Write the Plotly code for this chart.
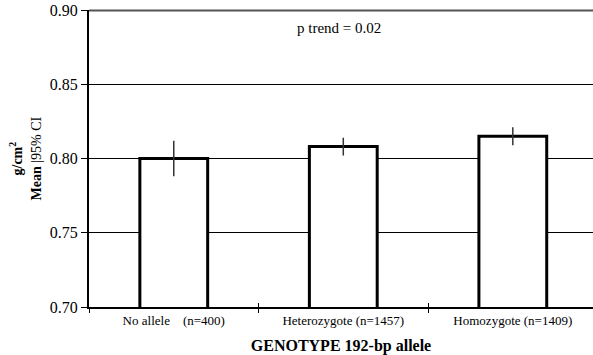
import plotly.graph_objects as go

# Mean bone density by genotype with 95% confidence interval half-widths
categories = ["No allele    (n=400)", "Heterozygote (n=1457)", "Homozygote (n=1409)"]
means = [0.800, 0.808, 0.815]
ci_half = [0.012, 0.006, 0.006]
y_ticks = [0.70, 0.75, 0.80, 0.85, 0.90]
y_tick_labels = ["0.70", "0.75", "0.80", "0.85", "0.90"]
group_bounds = [-0.5, 0.5, 1.5]

serif = "Liberation Serif"

fig = go.Figure()
fig.add_trace(go.Bar(
    x=list(range(len(categories))),
    y=means,
    base=0,
    width=0.4,
    marker=dict(color="white", line=dict(color="black", width=3)),
    error_y=dict(type="data", array=ci_half, visible=True,
                 color="#333333", thickness=1.5, width=0),
    showlegend=False,
))

x_range = [-0.5, 2.473]
fig.update_layout(
    width=593, height=355,
    margin=dict(l=89, r=0, t=10, b=48),
    plot_bgcolor="white", paper_bgcolor="white",
    font=dict(family=serif, color="black"),
    xaxis=dict(
        range=x_range,
        tickmode="array",
        tickvals=list(range(len(categories))),
        ticktext=categories,
        tickfont=dict(size=13, family=serif),
        ticks="",
        showline=True, linecolor="black", linewidth=2,
        showgrid=False, zeroline=False,
        title=dict(text="<b>GENOTYPE 192-bp allele</b>",
                   font=dict(size=16, family=serif), standoff=14),
    ),
    # group boundary ticks crossing the baseline
    xaxis2=dict(
        overlaying="x", range=x_range, anchor="y", side="bottom",
        tickmode="array", tickvals=group_bounds,
        showticklabels=False, ticks="outside", ticklen=5,
        tickcolor="black", tickwidth=1,
        showgrid=False, zeroline=False, showline=False,
    ),
    xaxis3=dict(
        overlaying="x", range=x_range, anchor="y", side="bottom",
        tickmode="array", tickvals=group_bounds,
        showticklabels=False, ticks="inside", ticklen=4,
        tickcolor="black", tickwidth=1,
        showgrid=False, zeroline=False, showline=False,
    ),
    yaxis=dict(
        range=[0.70, 0.90],
        tickmode="array",
        tickvals=y_ticks,
        ticktext=y_tick_labels,
        tickfont=dict(size=16, family=serif),
        ticks="outside", ticklen=6, tickcolor="black", tickwidth=1,
        showline=True, linecolor="black", linewidth=2,
        showgrid=True, gridcolor="black", gridwidth=1,
        zeroline=False,
    ),
    # top frame line of the plot area
    shapes=[dict(type="line", xref="paper", yref="paper",
                 x0=0, x1=1, y0=0.998, y1=0.998,
                 line=dict(color="#555555", width=2), layer="above")],
    annotations=[
        dict(text="<b>g/cm<sup>2</sup></b><br><b>Mean</b> |95% CI",
             xref="paper", yref="paper", x=0, y=0.5,
             xanchor="center", yanchor="middle", xshift=-64,
             textangle=-90, showarrow=False,
             font=dict(size=14, family=serif)),
        dict(text="p trend = 0.02",
             xref="paper", yref="paper", x=0.496, y=0.94,
             xanchor="center", yanchor="middle", showarrow=False,
             font=dict(size=15, family=serif)),
    ],
)

# invisible traces so the overlay axes are drawn
for ax in ["x2", "x3"]:
    fig.add_trace(go.Scatter(x=[0], y=[0.8], xaxis=ax, mode="markers",
                             marker=dict(opacity=0), showlegend=False,
                             hoverinfo="skip"))

fig.write_html("out.html", config={"displayModeBar": False})
